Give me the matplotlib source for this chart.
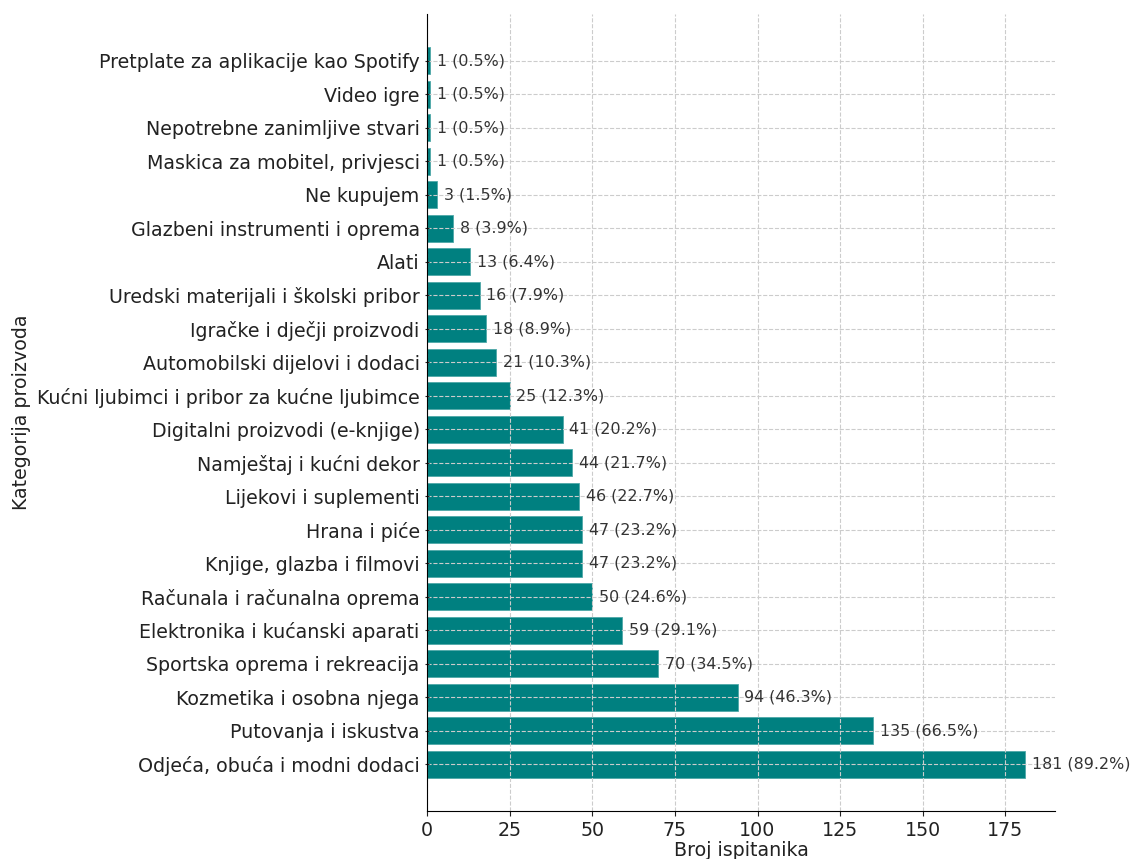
import matplotlib
matplotlib.use("Agg")
import matplotlib.pyplot as plt

categories = [
    "Odjeća, obuća i modni dodaci",
    "Putovanja i iskustva",
    "Kozmetika i osobna njega",
    "Sportska oprema i rekreacija",
    "Elektronika i kućanski aparati",
    "Računala i računalna oprema",
    "Knjige, glazba i filmovi",
    "Hrana i piće",
    "Lijekovi i suplementi",
    "Namještaj i kućni dekor",
    "Digitalni proizvodi (e-knjige)",
    "Kućni ljubimci i pribor za kućne ljubimce",
    "Automobilski dijelovi i dodaci",
    "Igračke i dječji proizvodi",
    "Uredski materijali i školski pribor",
    "Alati",
    "Glazbeni instrumenti i oprema",
    "Ne kupujem",
    "Maskica za mobitel, privjesci",
    "Nepotrebne zanimljive stvari",
    "Video igre",
    "Pretplate za aplikacije kao Spotify",
]
counts = [181, 135, 94, 70, 59, 50, 47, 47, 46, 44, 41, 25, 21, 18, 16, 13, 8, 3, 1, 1, 1, 1]
percents = [89.2, 66.5, 46.3, 34.5, 29.1, 24.6, 23.2, 23.2, 22.7, 21.7, 20.2, 12.3, 10.3, 8.9, 7.9, 6.4, 3.9, 1.5, 0.5, 0.5, 0.5, 0.5]

plt.rcParams['font.family'] = ['DejaVu Sans']

fig = plt.figure(figsize=(11.34, 8.59), dpi=100)
ax = fig.add_axes([427/1134, 1 - 811/859, (1055-427)/1134, (811-14)/859])

bars = ax.barh(categories, counts, color="#008080", height=0.8,
               edgecolor="#4fa8a8", linewidth=0.6)

for i, (c, p) in enumerate(zip(counts, percents)):
    ax.text(c + 2, i, f"{c} ({p}%)", va="center", ha="left", fontsize=11.4, color="#333333")

ax.grid(True, linestyle="--", color="#cccccc", linewidth=0.8)
ax.spines["top"].set_visible(False)
ax.spines["right"].set_visible(False)
ax.set_xlim(0, 190)
ax.set_ylim(-1.4, 22.4)
ax.set_xticks([0, 25, 50, 75, 100, 125, 150, 175])
ax.tick_params(axis="both", labelsize=13.7, colors="#222222")
ax.tick_params(axis="y", direction="inout")
ax.set_xlabel("Broj ispitanika", fontsize=13.7, color="#222222", labelpad=1)
ax.set_ylabel("Kategorija proizvoda", fontsize=13.7, color="#222222")
ax.yaxis.set_label_coords((31 - 427) / 628, 0.5)

fig.savefig("out.png", dpi=100)
